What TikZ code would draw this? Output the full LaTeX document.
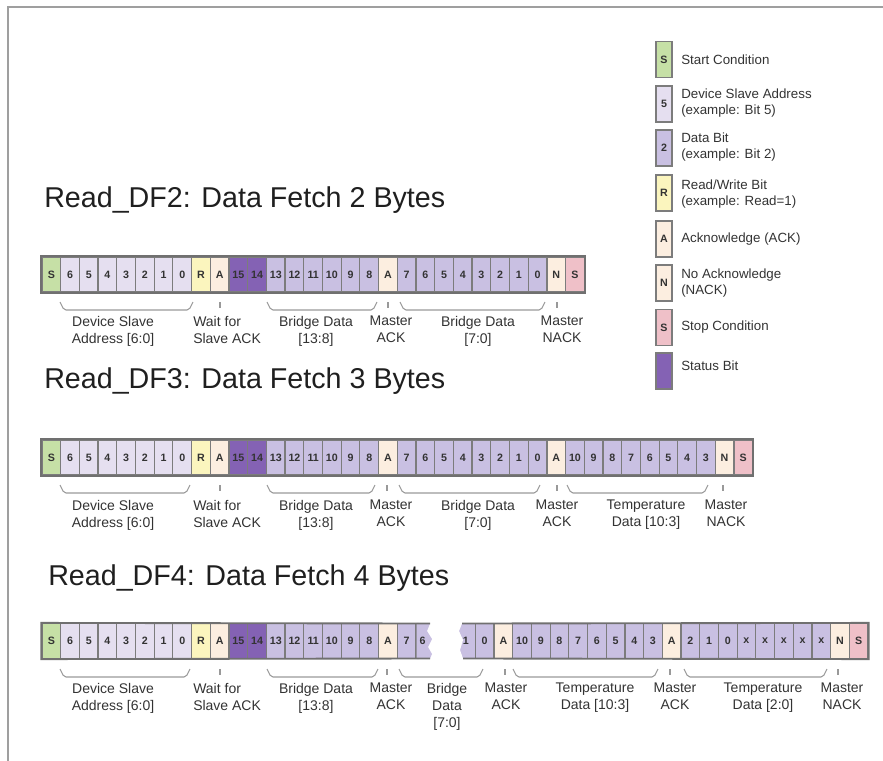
\documentclass[tikz,border=0pt]{standalone}
\usepackage{fontspec}
\setmainfont{Liberation Sans}
\definecolor{cgreen}{HTML}{C6E0A6}
\definecolor{caddrc}{HTML}{E5DFF0}
\definecolor{cdatac}{HTML}{C9C0E2}
\definecolor{crwc}{HTML}{FBF5BE}
\definecolor{cackc}{HTML}{FCEEE0}
\definecolor{cstatc}{HTML}{8462B4}
\definecolor{cstopc}{HTML}{EFC0C8}
\definecolor{cellline}{HTML}{7C7C7C}
\definecolor{txtc}{HTML}{333333}
\begin{document}
\begin{tikzpicture}[x=0.75pt,y=-0.75pt,
  cell/.style={draw=cellline,line width=0.9pt,minimum width=14.03pt,minimum height=26.25pt,inner sep=0pt,
    font=\bfseries\fontsize{8}{9}\selectfont,text=txtc},
  lgcell/.style={cell,minimum width=12pt,minimum height=27pt},
  cstart/.style={fill=cgreen},
  caddr/.style={fill=caddrc},
  cdata/.style={fill=cdatac},
  crw/.style={fill=crwc},
  cack/.style={fill=cackc},
  cstat/.style={fill=cstatc},
  cstop/.style={fill=cstopc},
  outer/.style={draw=cellline!90!black,line width=1.4pt},
  brc/.style={draw=gray!80,line width=0.8pt,rounded corners=1.5pt},
  lbl/.style={font=\fontsize{10.5}{12.75}\selectfont,text=txtc,align=center,anchor=north,inner sep=0pt},
  lgt/.style={font=\fontsize{10}{11.5}\selectfont,text=txtc,align=left,anchor=west,inner sep=0pt},
  ttl/.style={font=\fontsize{21.5}{24}\selectfont,text=black!88,anchor=west,inner sep=0pt}]
\useasboundingbox (0,0) rectangle (883,761);
\draw[draw=gray!75,line width=1.5pt] (8,761) -- (8,7) -- (883,7);
\newcommand\cellrow[4]{%
  \foreach \t/\s [count=\i from 0] in {#4} {\node[cell,\s] (#1-\i) at ({#2+18.7*\i+9.35},#3) {\t};}}
\newcommand\brc[3]{\draw[brc] (#1,#3) -- (#1+4,#3+8) -- (#2-4,#3+8) -- (#2,#3);}
\newcommand\tck[2]{\draw[brc] (#1,#2) -- (#1,#2+6);}
% titles
\node[ttl] (t1) at (44,200) {Read\_DF2: Data Fetch 2 Bytes};
\node[ttl] (t2) at (44,381) {Read\_DF3: Data Fetch 3 Bytes};
\node[ttl] (t3) at (48,578) {Read\_DF4: Data Fetch 4 Bytes};
% row 1
\cellrow{ra}{42}{274.5}{S/cstart,6/caddr,5/caddr,4/caddr,3/caddr,2/caddr,1/caddr,0/caddr,R/crw,A/cack,15/cstat,14/cstat,13/cdata,12/cdata,11/cdata,10/cdata,9/cdata,8/cdata,A/cack,7/cdata,6/cdata,5/cdata,4/cdata,3/cdata,2/cdata,1/cdata,0/cdata,N/cack,S/cstop}
\draw[outer] (ra-0.north west) rectangle (ra-28.south east);
\brc{60}{193}{302}\tck{220}{302}\brc{267}{377}{302}\tck{388}{302}\brc{400}{545}{302}\tck{557}{302}
\node[lbl] (la1) at (113,316) {Device Slave\\Address [6:0]};
\node[lbl,align=left,anchor=north west] (la2) at (193,316) {Wait for\\Slave ACK};
\node[lbl] (la3) at (316,316) {Bridge Data\\{}[13:8]};
\node[lbl] (la4) at (391,316) {Master\\ACK};
\node[lbl] (la5) at (478,316) {Bridge Data\\{}[7:0]};
\node[lbl] (la6) at (562,316) {Master\\NACK};
% row 2
\cellrow{rb}{42}{457.5}{S/cstart,6/caddr,5/caddr,4/caddr,3/caddr,2/caddr,1/caddr,0/caddr,R/crw,A/cack,15/cstat,14/cstat,13/cdata,12/cdata,11/cdata,10/cdata,9/cdata,8/cdata,A/cack,7/cdata,6/cdata,5/cdata,4/cdata,3/cdata,2/cdata,1/cdata,0/cdata,A/cack,10/cdata,9/cdata,8/cdata,7/cdata,6/cdata,5/cdata,4/cdata,3/cdata,N/cack,S/cstop}
\draw[outer] (rb-0.north west) rectangle (rb-37.south east);
\brc{60}{190}{485}\tck{220}{485}\brc{267}{375}{485}\tck{387}{485}\brc{399}{540}{485}\tck{557}{485}\brc{567}{708}{485}\tck{723}{485}
\node[lbl] (lb1) at (113,500) {Device Slave\\Address [6:0]};
\node[lbl,align=left,anchor=north west] (lb2) at (193,500) {Wait for\\Slave ACK};
\node[lbl] (lb3) at (316,500) {Bridge Data\\{}[13:8]};
\node[lbl] (lb4) at (391,500) {Master\\ACK};
\node[lbl] (lb5) at (478,500) {Bridge Data\\{}[7:0]};
\node[lbl] (lb6) at (557,500) {Master\\ACK};
\node[lbl] (lb7) at (646,500) {Temperature\\Data [10:3]};
\node[lbl] (lb8) at (726,500) {Master\\NACK};
% row 3 left part
\cellrow{rc}{42}{641}{S/cstart,6/caddr,5/caddr,4/caddr,3/caddr,2/caddr,1/caddr,0/caddr,R/crw,A/cack,15/cstat,14/cstat,13/cdata,12/cdata,11/cdata,10/cdata,9/cdata,8/cdata,A/cack,7/cdata}
\fill[cdatac] (rc-19.north east) -- (430,623.5) -- (427,631) -- (432,639) -- (428,647) -- (432,654) -- (430,658.5) -- (rc-19.south east) -- cycle;
\node[font=\bfseries\fontsize{8}{9}\selectfont,text=txtc,inner sep=0pt] (rcp) at (422.5,641) {6};
\draw[outer] (430,623.5) -- (rc-0.north west) -- (rc-0.south west) -- (430,658.5);
% row 3 right part
\cellrow{rd}{456.6}{641}{1/cdata,0/cdata,A/cack,10/cdata,9/cdata,8/cdata,7/cdata,6/cdata,5/cdata,4/cdata,3/cdata,A/cack,2/cdata,1/cdata,0/cdata,x/cdata,x/cdata,x/cdata,x/cdata,x/cdata,N/cack,S/cstop}
\fill[white] (455,622) -- (462,622) -- (462,623.5) -- (459,631) -- (463,640) -- (460,650) -- (463,658.5) -- (463,660) -- (455,660) -- cycle;
\draw[outer] (462,623.5) -- (rd-21.north east) -- (rd-21.south east) -- (463,658.5);
\brc{60}{190}{669}\tck{220}{669}\brc{267}{378}{669}\tck{387}{669}\brc{399}{483}{669}\tck{505}{669}\brc{513}{658}{669}\tck{670}{669}\brc{684}{827}{669}\tck{838}{669}
\node[lbl] (lc1) at (113,683) {Device Slave\\Address [6:0]};
\node[lbl,align=left,anchor=north west] (lc2) at (193,683) {Wait for\\Slave ACK};
\node[lbl] (lc3) at (316,683) {Bridge Data\\{}[13:8]};
\node[lbl] (lc4) at (391,683) {Master\\ACK};
\node[lbl] (lc5) at (447,683) {Bridge\\Data\\{}[7:0]};
\node[lbl] (lc6) at (506,683) {Master\\ACK};
\node[lbl] (lc7) at (595,683) {Temperature\\Data [10:3]};
\node[lbl] (lc8) at (675,683) {Master\\ACK};
\node[lbl] (lc9) at (763,683) {Temperature\\Data [2:0]};
\node[lbl] (lc10) at (842,683) {Master\\NACK};
% legend
\node[lgcell,cstart] (g1) at (664,59.5) {S};
\node[lgt] (h1) at (681,59.5) {Start Condition};
\node[lgcell,caddr] (g2) at (664,104) {5};
\node[lgt] (h2) at (681,103) {Device Slave Address\\(example: Bit 5)};
\node[lgcell,cdata] (g3) at (664,148) {2};
\node[lgt] (h3) at (681,147) {Data Bit\\(example: Bit 2)};
\node[lgcell,crw] (g4) at (664,193) {R};
\node[lgt] (h4) at (681,194) {Read/Write Bit\\(example: Read=1)};
\node[lgcell,cack] (g5) at (664,239) {A};
\node[lgt] (h5) at (681,239) {Acknowledge (ACK)};
\node[lgcell,cack] (g6) at (664,283) {N};
\node[lgt] (h6) at (681,283) {No Acknowledge\\(NACK)};
\node[lgcell,cstop] (g7) at (664,327.5) {S};
\node[lgt] (h7) at (681,327.5) {Stop Condition};
\node[lgcell,cstat] (g8) at (664,371) {};
\node[lgt] (h8) at (681,366) {Status Bit};
\end{tikzpicture}
\end{document}
